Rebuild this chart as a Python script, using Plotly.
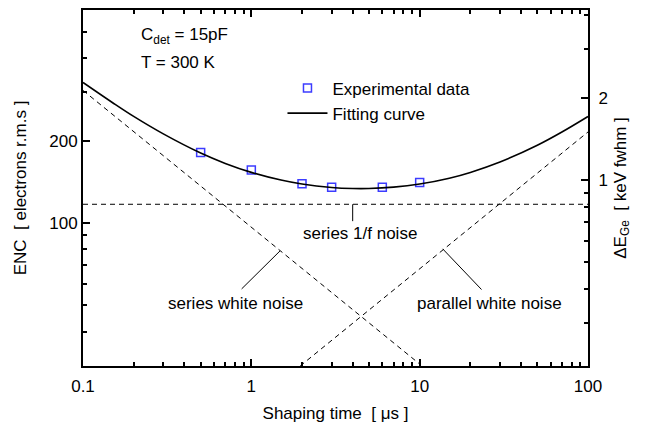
import math
import plotly.graph_objects as go

# ---------------- data ----------------
tau_exp = [0.5, 1, 2, 3, 6, 10]                 # shaping time [us]
enc_exp = [181, 156, 139, 135, 135, 140.5]      # ENC [e- rms]

tau_fit = [0.1, 0.15, 0.2, 0.3, 0.5, 0.7, 1, 1.5, 2, 3, 4, 5, 7, 10, 15, 20, 30, 50, 70, 100]
enc_fit = [326, 275, 245, 211.5, 180, 165, 153, 143.4, 138.7, 134.8, 133.6, 133.6,
           135.1, 138.7, 145.7, 153, 167, 192.3, 215, 245]

tau_series_white = [0.1, 10]
enc_series_white = [305, 30.5]
tau_parallel_white = [1.95, 100]
enc_parallel_white = [30, 215]
tau_flicker = [0.1, 100]
enc_flicker = [117, 117]

noise_labels = ["series 1/f noise", "series white noise", "parallel white noise"]
label_tau = [4.42, 0.80, 26.1]
label_enc = [91.8, 50.8, 50.8]
leader_tau = [[4.0, 4.0], [1.48, 0.876], [13.7, 23.3]]
leader_enc = [[117, 101.5], [79, 57.4], [80.4, 57.1]]

x_major = [0.1, 1, 10, 100]
x_major_text = ["0.1", "1", "10", "100"]
x_minor = [0.2, 0.3, 0.4, 0.5, 0.6, 0.7, 0.8, 0.9, 2, 3, 4, 5, 6, 7, 8, 9,
           20, 30, 40, 50, 60, 70, 80, 90]
y_major = [100, 200]
y_minor = [40, 50, 60, 70, 80, 90, 300, 400, 500]
y2_major = [1, 2]
y2_minor = [0.3, 0.4, 0.5, 0.6, 0.7, 0.8, 0.9, 3, 4]

KEV_PER_E = 2.355 * 2.96e-3   # keV fwhm per electron rms in Ge
y_range = [30, 600]

FONT = "Liberation Sans, Arial, sans-serif"
BLUE = "rgb(60,60,255)"

fig = go.Figure()

dash = "5px,4px"
for tx, ey in [(tau_series_white, enc_series_white),
               (tau_parallel_white, enc_parallel_white),
               (tau_flicker, enc_flicker)]:
    fig.add_trace(go.Scatter(x=tx, y=ey, mode="lines", showlegend=False, hoverinfo="skip",
                             line=dict(color="black", width=1, dash=dash)))

for tx, ey in zip(leader_tau, leader_enc):
    fig.add_trace(go.Scatter(x=tx, y=ey, mode="lines", showlegend=False, hoverinfo="skip",
                             line=dict(color="black", width=1)))

fig.add_trace(go.Scatter(x=tau_exp, y=enc_exp, mode="markers", name="Experimental data",
                         marker=dict(symbol="square", size=8, color="white",
                                     line=dict(color=BLUE, width=1.5))))
fig.add_trace(go.Scatter(x=tau_fit, y=enc_fit, mode="lines", name="Fitting curve",
                         line=dict(color="black", width=1.6, shape="spline", smoothing=1.0)))

# invisible trace on the keV axis
fig.add_trace(go.Scatter(x=tau_exp, y=[e * KEV_PER_E for e in enc_exp], yaxis="y2",
                         mode="markers", marker=dict(opacity=0), showlegend=False,
                         hoverinfo="skip"))

for txt, tx, ey in zip(noise_labels, label_tau, label_enc):
    fig.add_annotation(x=math.log10(tx), y=math.log10(ey), text=txt, showarrow=False,
                       xanchor="center", yanchor="middle",
                       font=dict(family=FONT, size=17, color="black"))

fig.add_annotation(xref="paper", yref="paper", x=0.11, y=0.926, xanchor="left",
                   yanchor="middle", showarrow=False,
                   text="C<sub>det</sub> = 15pF", font=dict(family=FONT, size=17, color="black"))
fig.add_annotation(xref="paper", yref="paper", x=0.11, y=0.852, xanchor="left",
                   yanchor="middle", showarrow=False,
                   text="T = 300 K", font=dict(family=FONT, size=17, color="black"))

axis_common = dict(showline=True, linecolor="black", linewidth=2, ticks="inside",
                   ticklen=7, tickwidth=1.5, tickcolor="black", showgrid=False,
                   zeroline=False, tickfont=dict(family=FONT, size=17, color="black"))

fig.update_layout(
    width=640, height=420,
    margin=dict(l=75, r=60, t=0, b=62),
    paper_bgcolor="white", plot_bgcolor="white",
    font=dict(family=FONT, size=17, color="black"),
    xaxis=dict(type="log", range=[-1, 2], mirror="ticks",
               tickmode="array", tickvals=x_major, ticktext=x_major_text,
               ticklabelstandoff=4,
               minor=dict(tickmode="array", tickvals=x_minor, ticks="inside",
                          ticklen=4, tickwidth=1.5, tickcolor="black", showgrid=False),
               title=dict(text="Shaping time\u00a0\u00a0[ \u03bcs ]", standoff=12,
                          font=dict(family=FONT, size=17, color="black")),
               **axis_common),
    yaxis=dict(type="log", range=[math.log10(v) for v in y_range],
               tickmode="array", tickvals=y_major, ticktext=[str(v) for v in y_major],
               minor=dict(tickmode="array", tickvals=y_minor, ticks="inside",
                          ticklen=4, tickwidth=1.5, tickcolor="black", showgrid=False),
               title=dict(text="ENC\u00a0\u00a0[ electrons r.m.s ]", standoff=18,
                          font=dict(family=FONT, size=17, color="black")),
               **axis_common),
    yaxis2=dict(type="log", overlaying="y", side="right", anchor="x",
                range=[math.log10(v * KEV_PER_E) for v in y_range],
                tickmode="array", tickvals=y2_major, ticktext=[str(v) for v in y2_major],
                ticklabelstandoff=5,
                minor=dict(tickmode="array", tickvals=y2_minor, ticks="inside",
                           ticklen=4, tickwidth=1.5, tickcolor="black", showgrid=False),
                title=dict(text="\u0394E<sub>Ge</sub>\u00a0\u00a0[ keV fwhm ]", standoff=7,
                           font=dict(family=FONT, size=17, color="black")),
                **axis_common),
    legend=dict(x=0.395, y=0.83, xanchor="left", yanchor="top",
                bgcolor="rgba(0,0,0,0)", borderwidth=0,
                font=dict(family=FONT, size=17, color="black"),
                tracegroupgap=0, itemwidth=40),
    showlegend=True,
)

fig.write_html("out.html")
